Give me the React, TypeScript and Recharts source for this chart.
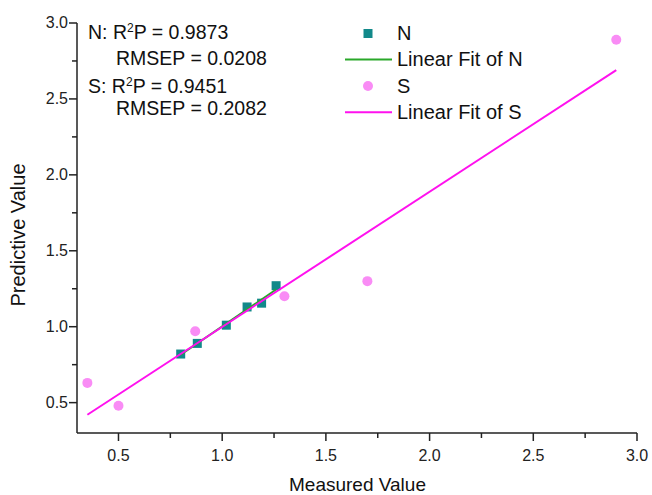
import React from 'react';
import { ScatterChart, Scatter, XAxis, YAxis, Legend, Label } from 'recharts';

const nMeasured = [0.8, 0.88, 1.02, 1.12, 1.19, 1.26];
const nPredicted = [0.82, 0.89, 1.01, 1.13, 1.155, 1.27];
const sMeasured = [0.35, 0.5, 0.87, 1.3, 1.7, 2.9];
const sPredicted = [0.63, 0.48, 0.97, 1.2, 1.3, 2.89];

// end points of the two linear fits
const nFitX = [0.8, 1.26];
const nFitY = [0.815, 1.245];
const sFitX = [0.35, 2.9];
const sFitY = [0.42, 2.69];

const xTicks = [0.5, 0.75, 1.0, 1.25, 1.5, 1.75, 2.0, 2.25, 2.5, 2.75, 3.0];
const yTicks = [0.5, 0.75, 1.0, 1.25, 1.5, 1.75, 2.0, 2.25, 2.5, 2.75, 3.0];

const statsN = { r2: '0.9873', rmsep: '0.0208' };
const statsS = { r2: '0.9451', rmsep: '0.2082' };

const legendOrder = ['N', 'Linear Fit of N', 'S', 'Linear Fit of S'];

const FONT = '"Liberation Sans", Arial, sans-serif';
const AXIS = '#222';
const TEAL = '#12898a';
const PINK = '#f98cf5';
const GREEN = '#2aa82a';
const MAGENTA = '#ff11ee';

const zip = (xs: number[], ys: number[]) => xs.map((x, i) => ({ x, y: ys[i] }));

const nData = zip(nMeasured, nPredicted);
const sData = zip(sMeasured, sPredicted);
const nFit = zip(nFitX, nFitY);
const sFit = zip(sFitX, sFitY);

const isMajor = (v: number) => Math.abs(v * 2 - Math.round(v * 2)) < 1e-6;

const XTick = (props: any) => {
    const { x, y, payload } = props;
    const major = isMajor(payload.value);
    return (
        <g>
            <line x1={x} y1={y} x2={x} y2={y + (major ? 8 : 5)} stroke={AXIS} strokeWidth={1.5} />
            {major && (
                <text x={x} y={y + 28} textAnchor="middle" fontSize={16} fontFamily={FONT} fill={AXIS}>
                    {payload.value.toFixed(1)}
                </text>
            )}
        </g>
    );
};

const YTick = (props: any) => {
    const { x, y, payload } = props;
    const major = isMajor(payload.value);
    return (
        <g>
            <line x1={x} y1={y} x2={x - (major ? 8 : 5)} y2={y} stroke={AXIS} strokeWidth={1.5} />
            {major && (
                <text x={x - 9} y={y + 5} textAnchor="end" fontSize={16} fontFamily={FONT} fill={AXIS}>
                    {payload.value.toFixed(1)}
                </text>
            )}
        </g>
    );
};

const Square = (props: any) => {
    const { cx, cy } = props;
    return <rect x={cx - 4.5} y={cy - 4.5} width={9} height={9} fill={TEAL} />;
};

const Dot = (props: any) => {
    const { cx, cy } = props;
    return <circle cx={cx} cy={cy} r={5} fill={PINK} />;
};

const NoMark = () => <g />;

// R²P line with a superscript 2
const StatText = ({ x, y, tag, r2 }: { x: number; y: number; tag: string; r2: string }) => (
    <text x={x} y={y} fontSize={19.5} fontFamily={FONT} fill="#111">
        {tag}: R
        <tspan fontSize={12} dy={-7}>2</tspan>
        <tspan dy={7}>P = {r2}</tspan>
    </text>
);

const LegendBox = (props: any) => {
    const payload = [...(props.payload || [])].sort(
        (a: any, b: any) => legendOrder.indexOf(a.value) - legendOrder.indexOf(b.value)
    );
    const rowY = [18.5, 44.5, 71, 97.3];
    return (
        <svg width={260} height={115} style={{ display: 'block' }}>
            {payload.map((entry: any, i: number) => {
                const cy = rowY[i] ?? 18 + i * 26;
                const name = entry.value;
                let marker;
                if (name === 'N') marker = <rect x={33.5} y={cy - 4.5} width={9} height={9} fill={TEAL} />;
                else if (name === 'S') marker = <circle cx={38} cy={cy} r={5} fill={PINK} />;
                else marker = <line x1={15} y1={cy} x2={62} y2={cy} stroke={entry.color} strokeWidth={2} />;
                return (
                    <g key={name}>
                        {marker}
                        <text x={67} y={cy + 6.5} fontSize={20} fontFamily={FONT} fill="#111">{name}</text>
                    </g>
                );
            })}
        </svg>
    );
};

const App: React.FC = () => {
    return (
        <div style={{ position: 'absolute', left: 0, top: 0, background: '#fff' }}>
            <ScatterChart width={652} height={495} margin={{ top: 23, right: 15, bottom: 32, left: 0 }}>
                <XAxis
                    type="number"
                    dataKey="x"
                    domain={[0.3, 3.0]}
                    ticks={xTicks}
                    interval={0}
                    allowDataOverflow
                    height={30}
                    tickSize={0}
                    tickMargin={0}
                    tickLine={false}
                    tick={<XTick />}
                    axisLine={{ stroke: AXIS, strokeWidth: 1.5 }}
                >
                    <Label
                        content={() => (
                            <text x={357.5} y={491} textAnchor="middle" fontSize={19} fontFamily={FONT} fill="#111">
                                Measured Value
                            </text>
                        )}
                    />
                </XAxis>
                <YAxis
                    type="number"
                    dataKey="y"
                    domain={[0.3, 3.0]}
                    ticks={yTicks}
                    interval={0}
                    allowDataOverflow
                    width={77}
                    tickSize={0}
                    tickMargin={0}
                    tickLine={false}
                    tick={<YTick />}
                    axisLine={{ stroke: AXIS, strokeWidth: 1.5 }}
                >
                    <Label
                        content={() => (
                            <text
                                x={25}
                                y={235}
                                transform="rotate(-90 25 235)"
                                textAnchor="middle"
                                fontSize={20}
                                fontFamily={FONT}
                                fill="#111"
                            >
                                Predictive Value
                            </text>
                        )}
                    />
                </YAxis>

                <Legend
                    verticalAlign="middle"
                    layout="horizontal"
                    content={<LegendBox />}
                    wrapperStyle={{ position: 'absolute', left: 330, top: 15, width: 260, height: 115 }}
                />

                <Scatter name="N" data={nData} shape={<Square />} fill={TEAL} isAnimationActive={false} />
                <Scatter
                    name="Linear Fit of N"
                    data={nFit}
                    fill={GREEN}
                    line={{ stroke: GREEN, strokeWidth: 2 }}
                    shape={<NoMark />}
                    isAnimationActive={false}
                />
                <Scatter name="S" data={sData} shape={<Dot />} fill={PINK} isAnimationActive={false} />
                <Scatter
                    name="Linear Fit of S"
                    data={sFit}
                    fill={MAGENTA}
                    line={{ stroke: MAGENTA, strokeWidth: 2 }}
                    shape={<NoMark />}
                    isAnimationActive={false}
                />

                <StatText x={88} y={39} tag="N" r2={statsN.r2} />
                <text x={116} y={65} fontSize={19.5} fontFamily={FONT} fill="#111">RMSEP = {statsN.rmsep}</text>
                <StatText x={88} y={93} tag="S" r2={statsS.r2} />
                <text x={116} y={115} fontSize={19.5} fontFamily={FONT} fill="#111">RMSEP = {statsS.rmsep}</text>
            </ScatterChart>
        </div>
    );
};

export default App;
